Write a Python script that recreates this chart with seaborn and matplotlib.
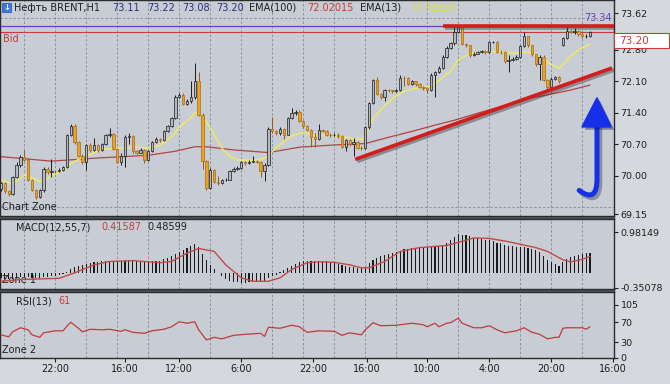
import numpy as np
import seaborn as sns
import matplotlib.pyplot as plt
import matplotlib.patheffects as pe
from matplotlib.patches import Rectangle, PathPatch, Polygon
from matplotlib.path import Path

# ---- H1 candles, Brent (bar index = position) ----
opens = [
    69.70, 69.84, 69.66, 69.60, 69.98, 70.24, 70.42, 70.36, 69.91, 69.69,
    69.53, 69.68, 70.16, 70.09, 70.11, 70.10, 70.14, 70.20, 70.90, 71.12,
    70.75, 70.45, 70.30, 70.68, 70.57, 70.68, 70.57, 70.70, 70.90, 70.93,
    70.60, 70.32, 70.45, 70.86, 70.88, 70.55, 70.52, 70.58, 70.36, 70.55,
    70.75, 70.82, 70.79, 71.00, 71.10, 71.28, 71.76, 71.80, 71.60, 71.66,
    71.75, 72.10, 71.36, 70.33, 69.73, 70.13, 69.87, 69.85, 69.90, 69.92,
    70.10, 70.15, 70.18, 70.30, 70.28, 70.32, 70.33, 70.31, 70.12, 70.25,
    71.05, 70.99, 70.95, 71.05, 70.92, 71.28, 71.39, 71.43, 71.22, 71.10,
    71.03, 70.87, 70.83, 71.02, 71.00, 70.92, 70.90, 70.92, 70.88, 70.65,
    70.80, 70.70, 70.75, 70.63, 70.62, 71.08, 71.62, 72.13, 71.82, 71.75,
    71.91, 71.90, 71.88, 71.91, 72.18, 72.17, 72.05, 72.10, 72.04, 71.98,
    71.95, 71.90, 72.25, 72.30, 72.40, 72.65, 72.85, 72.95, 73.20, 73.30,
    72.93, 72.90, 72.68, 72.72, 72.75, 72.78, 72.75, 72.97, 72.98, 72.76,
    72.75, 72.55, 72.58, 72.60, 72.65, 72.88, 73.10, 72.90, 72.70, 72.48,
    72.65, 72.13, 71.98, 72.16, 72.20, 72.90, 73.06, 73.22, 73.20, 73.22,
    73.15, 73.10, 73.11,
]
highs = [
    69.87, 69.86, 69.68, 70.00, 70.30, 70.46, 70.58, 70.40, 69.94, 69.72,
    69.70, 70.20, 70.19, 70.37, 70.14, 70.17, 70.23, 70.93, 71.15, 71.16,
    70.78, 70.48, 70.72, 70.73, 70.85, 70.70, 70.73, 70.93, 71.06, 70.96,
    70.63, 70.50, 70.92, 70.95, 70.90, 70.58, 70.62, 70.60, 70.58, 70.78,
    70.86, 70.85, 71.03, 71.14, 71.32, 71.80, 71.85, 71.85, 71.70, 72.10,
    72.52, 72.30, 71.40, 70.36, 70.17, 70.16, 70.00, 69.94, 69.96, 70.13,
    70.20, 70.22, 70.34, 70.33, 70.35, 70.45, 70.36, 70.34, 70.28, 71.08,
    71.30, 71.02, 71.08, 71.07, 71.31, 71.50, 71.47, 71.46, 71.25, 71.13,
    71.05, 70.95, 71.15, 71.05, 71.03, 70.95, 70.96, 70.95, 70.90, 70.83,
    70.83, 70.85, 70.78, 70.66, 71.11, 71.65, 72.16, 72.20, 71.85, 71.94,
    71.94, 71.92, 71.94, 72.25, 72.22, 72.20, 72.13, 72.12, 72.06, 72.00,
    71.98, 72.28, 72.34, 72.44, 72.68, 72.88, 72.98, 73.35, 73.35, 73.32,
    72.96, 72.92, 72.75, 72.78, 72.80, 72.80, 73.00, 73.01, 73.00, 72.79,
    72.77, 72.68, 72.64, 72.68, 72.91, 73.20, 73.12, 72.92, 72.72, 72.68,
    72.68, 72.15, 72.19, 72.23, 72.22, 73.09, 73.36, 73.25, 73.28, 73.24,
    73.17, 73.16, 73.22,
]
lows = [
    69.66, 69.62, 69.55, 69.57, 69.95, 70.20, 70.33, 69.88, 69.66, 69.48,
    69.50, 69.65, 70.05, 69.98, 70.06, 70.08, 70.12, 70.18, 70.88, 70.72,
    70.42, 70.26, 70.13, 70.54, 70.55, 70.54, 70.55, 70.68, 70.86, 70.57,
    70.28, 70.25, 70.20, 70.72, 70.52, 70.48, 70.50, 70.29, 70.34, 70.53,
    70.73, 70.76, 70.77, 70.98, 71.08, 71.26, 71.74, 71.57, 71.58, 71.63,
    71.72, 71.33, 70.15, 69.69, 69.70, 69.84, 69.80, 69.83, 69.88, 69.90,
    70.08, 70.13, 70.16, 70.25, 70.26, 70.30, 70.28, 69.98, 69.88, 70.22,
    70.96, 70.90, 70.92, 70.82, 70.90, 71.26, 71.36, 71.19, 71.07, 71.00,
    70.64, 70.65, 70.80, 70.97, 70.89, 70.87, 70.88, 70.85, 70.62, 70.55,
    70.67, 70.45, 70.60, 70.58, 70.60, 71.05, 71.60, 71.79, 71.72, 71.66,
    71.87, 71.85, 71.86, 71.89, 72.00, 72.02, 72.03, 72.01, 71.95, 71.92,
    71.85, 71.88, 71.76, 72.28, 72.38, 72.62, 72.83, 72.92, 73.18, 72.90,
    72.86, 72.65, 72.66, 72.70, 72.73, 72.72, 72.73, 72.95, 72.73, 72.72,
    72.52, 72.30, 72.55, 72.57, 72.63, 72.86, 72.87, 72.67, 72.45, 72.13,
    72.10, 71.88, 71.95, 72.13, 72.07, 72.88, 73.04, 73.17, 73.16, 73.12,
    73.06, 73.07, 73.08,
]
closes = [
    69.84, 69.66, 69.60, 69.98, 70.24, 70.42, 70.36, 69.91, 69.69, 69.53,
    69.68, 70.16, 70.09, 70.11, 70.10, 70.14, 70.20, 70.90, 71.12, 70.75,
    70.45, 70.30, 70.68, 70.57, 70.68, 70.57, 70.70, 70.90, 70.93, 70.60,
    70.32, 70.45, 70.86, 70.88, 70.55, 70.52, 70.58, 70.36, 70.55, 70.75,
    70.82, 70.79, 71.00, 71.10, 71.28, 71.76, 71.80, 71.60, 71.66, 71.75,
    72.10, 71.36, 70.33, 69.73, 70.13, 69.87, 69.85, 69.90, 69.92, 70.10,
    70.15, 70.18, 70.30, 70.28, 70.32, 70.33, 70.31, 70.12, 70.25, 71.05,
    70.99, 70.95, 71.05, 70.92, 71.28, 71.39, 71.43, 71.22, 71.10, 71.03,
    70.87, 70.83, 71.02, 71.00, 70.92, 70.90, 70.92, 70.88, 70.65, 70.80,
    70.70, 70.75, 70.63, 70.62, 71.08, 71.62, 72.13, 71.82, 71.75, 71.91,
    71.90, 71.88, 71.91, 72.18, 72.17, 72.05, 72.10, 72.04, 71.98, 71.95,
    71.90, 72.25, 72.30, 72.40, 72.65, 72.85, 72.95, 73.20, 73.30, 72.93,
    72.90, 72.68, 72.72, 72.75, 72.78, 72.75, 72.97, 72.98, 72.76, 72.75,
    72.55, 72.58, 72.60, 72.65, 72.88, 73.10, 72.90, 72.70, 72.48, 72.65,
    72.13, 71.98, 72.16, 72.20, 72.10, 73.06, 73.22, 73.20, 73.22, 73.15,
    73.10, 73.11, 73.20,
]

# moving averages (bar, value)
ema13_bar = [0, 3, 6, 8, 10, 12, 14, 16, 18, 20, 23, 26, 29, 32, 35, 38, 41, 44,
             46, 49, 50, 51, 53, 55, 57, 59, 61, 64, 67, 69, 71, 73, 75, 78, 81,
             86, 89, 93, 94, 96, 99, 101, 104, 107, 111, 113, 116, 118, 121, 125,
             129, 133, 136, 139, 142, 144, 147, 149, 152]
ema13_val = [69.91, 69.83, 70.02, 69.96, 69.88, 69.95, 70.05, 70.13, 70.28, 70.37,
             70.48, 70.59, 70.61, 70.62, 70.64, 70.62, 70.68, 70.87, 71.08, 71.30,
             71.40, 71.42, 71.20, 70.92, 70.62, 70.43, 70.36, 70.35, 70.36, 70.45,
             70.63, 70.77, 70.89, 70.97, 70.90, 70.90, 70.86, 70.81, 70.88, 71.28,
             71.56, 71.72, 71.88, 71.95, 72.00, 72.12, 72.33, 72.58, 72.72, 72.76,
             72.76, 72.73, 72.76, 72.65, 72.48, 72.39, 72.66, 72.80, 72.93]
ema100_bar = [0, 13, 25, 38, 45, 50, 53, 60, 69, 77, 86, 94, 100, 106, 112, 117,
              124, 130, 136, 142, 147, 152]
ema100_val = [70.43, 70.33, 70.40, 70.46, 70.55, 70.65, 70.65, 70.58, 70.52, 70.64,
              70.69, 70.72, 70.86, 70.99, 71.13, 71.24, 71.42, 71.57, 71.72, 71.82,
              71.91, 72.02]

# MACD(12,55,7): histogram per bar, signal line (bar, value)
macd_hist = [
    -0.12, -0.13, -0.14, -0.13, -0.11, -0.09, -0.08, -0.09, -0.11, -0.12,
    -0.12, -0.10, -0.08, -0.07, -0.06, -0.04, -0.02,
    0.03, 0.10, 0.15, 0.18, 0.20, 0.23, 0.25, 0.26, 0.27, 0.28, 0.29, 0.30, 0.30,
    0.29, 0.28, 0.29, 0.30, 0.29, 0.28, 0.28, 0.27, 0.27, 0.28, 0.29, 0.30,
    0.33, 0.36, 0.40, 0.46, 0.51, 0.55, 0.59, 0.64, 0.69, 0.62, 0.46, 0.32, 0.20,
    0.10, 0.01,
    -0.07, -0.13, -0.18, -0.20, -0.21, -0.22, -0.22, -0.21, -0.21, -0.20, -0.20,
    -0.18, -0.12, -0.07, -0.03, 0.02,
    0.07, 0.12, 0.17, 0.22, 0.26, 0.29, 0.30, 0.29, 0.28, 0.29, 0.29, 0.28, 0.27,
    0.25, 0.23, 0.19, 0.18, 0.16, 0.15, 0.13, 0.12,
    0.16, 0.24, 0.31, 0.37, 0.40, 0.43, 0.46, 0.49, 0.51, 0.54, 0.57, 0.58, 0.60,
    0.61, 0.62, 0.62, 0.62, 0.64, 0.64, 0.65, 0.67,
    0.72, 0.79, 0.87, 0.93, 0.92, 0.90, 0.88, 0.85, 0.83, 0.81, 0.80, 0.79, 0.76,
    0.73, 0.71, 0.68, 0.66, 0.64, 0.63, 0.62, 0.62, 0.61, 0.58, 0.55, 0.51,
    0.42, 0.32, 0.26, 0.22, 0.18, 0.27, 0.34, 0.38, 0.41, 0.43, 0.45, 0.47, 0.49,
]
macd_sig_bar = [0, 5, 15, 19, 24, 28, 34, 41, 44, 48, 51, 55, 58, 62, 65, 69, 72,
                75, 79, 82, 86, 90, 93, 95, 99, 103, 108, 115, 119, 122, 126, 131,
                134, 138, 141, 145, 147, 150, 152]
macd_sig_val = [-0.19, -0.15, -0.12, 0.01, 0.20, 0.28, 0.30, 0.25, 0.28, 0.48,
                0.59, 0.52, 0.20, -0.11, -0.19, -0.19, -0.11, 0.09, 0.25, 0.27,
                0.26, 0.20, 0.13, 0.13, 0.28, 0.52, 0.61, 0.66, 0.76, 0.84, 0.83,
                0.75, 0.69, 0.61, 0.52, 0.32, 0.27, 0.33, 0.40]

# RSI(13) (bar, value)
rsi_bar = [0, 2, 3, 5, 7, 8, 10, 11, 14, 16, 17, 18, 20, 21, 23, 26, 28, 31, 32,
           34, 37, 39, 42, 44, 46, 48, 50, 51, 53, 55, 57, 60, 63, 67, 68, 69, 72,
           75, 77, 79, 82, 86, 88, 90, 93, 94, 96, 98, 102, 106, 109, 110, 112,
           113, 115, 116, 118, 119, 122, 124, 126, 128, 130, 133, 135, 137, 139,
           141, 143, 144, 145, 146, 150, 151, 152]
rsi_val = [45, 41, 51, 59, 55, 45, 40, 49, 53, 53, 62, 70, 58, 51, 56, 55, 56, 52,
           55, 50, 48, 53, 56, 61, 71, 68, 71, 55, 35, 40, 37, 44, 46, 48, 42, 60,
           58, 64, 61, 50, 53, 52, 44, 49, 45, 55, 69, 63, 64, 68, 65, 61, 68, 61,
           68, 69, 78, 68, 59, 59, 63, 55, 49, 53, 59, 50, 46, 37, 40, 40, 58, 59,
           59, 56, 61]

time_tick_pos = [14, 32, 46, 62, 80.5, 94.5, 110, 126, 142, 158]
time_tick_labels = ["22:00", "16:00", "12:00", "6:00", "22:00", "16:00",
                    "10:00", "4:00", "20:00", "16:00"]
price_ticks = [69.15, 70.00, 70.70, 71.40, 72.10, 72.80, 73.62]
price_grid = [69.30, 70.00, 70.70, 71.40, 72.10, 72.80, 73.50]
macd_ticks = [-0.35078, 0.98149]
rsi_ticks = [0, 30, 70, 105]
rsi_grid = [30, 70, 105]

bid_price = 73.20
level_price = 73.34
resist_from = 114
trend_start = (91.4, 70.37)
trend_end = (157.7, 72.40)

# ---- figure / layout (pixel based, 670x384) ----
sns.set_style("white")
plt.rcParams['font.family'] = ['DejaVu Sans']

W, H = 670, 384
PANEL_R = 613.5
X_LIM = (-0.26, 158.06)
BG = '#c8cdd5'
GRID = '#8a93a3'
DARK = '#1e1e1e'
RED = '#c63b3b'


def fx(px):
    return px / W


def fy(py):
    return 1 - py / H


fig = plt.figure(figsize=(W / 100, H / 100), dpi=100)
fig.patch.set_facecolor('#d5d8dc')

ax_main = fig.add_axes([0, fy(215.5), fx(PANEL_R), 215.5 / H])
ax_macd = fig.add_axes([0, fy(289), fx(PANEL_R), 70 / H])
ax_rsi = fig.add_axes([0, fy(357.5), fx(PANEL_R), 65.5 / H])

grid_x = np.arange(6, 158, 8)
for ax in (ax_main, ax_macd, ax_rsi):
    ax.set_facecolor(BG)
    ax.set_xlim(*X_LIM)
    ax.set_xticks(grid_x, minor=True)
    ax.grid(which='minor', color=GRID, lw=0.7, ls=(0, (2.5, 2)))
    ax.set_axisbelow(True)
    for s in ax.spines.values():
        s.set_color('#2b2b2b')
        s.set_linewidth(1.0)
    ax.yaxis.tick_right()
    ax.tick_params(axis='x', which='both', bottom=False, labelbottom=False,
                   top=False)
    ax.tick_params(axis='y', which='minor', length=0)
    ax.tick_params(axis='y', which='major', right=True, length=3, width=0.8,
                   pad=2, labelsize=6.8, colors=DARK)

# separator bands between panels
for top, bot in ((215.5, 219), (289, 292)):
    fig.add_artist(Rectangle((0, fy(bot)), fx(PANEL_R), (bot - top) / H,
                             transform=fig.transFigure, color='#50555c',
                             zorder=-1))

# ---- main price panel ----
o = np.array(opens)
h = np.array(highs)
l = np.array(lows)
c = np.array(closes)
x = np.arange(len(c))
up = c >= o
body_lo = np.minimum(o, c)
body_h = np.maximum(np.abs(c - o), 0.012)

ax_main.set_ylim(69.122, 73.911)
ax_main.set_yticks(price_ticks)
ax_main.set_yticklabels([f"{v:.2f}" for v in price_ticks])
ax_main.set_yticks(price_grid, minor=True)

sns.lineplot(x=ema100_bar, y=ema100_val, ax=ax_main, color='#b04444', lw=0.9,
             sort=False, estimator=None, zorder=2)
sns.lineplot(x=ema13_bar, y=ema13_val, ax=ax_main, color='#f0ec5a', lw=1.0,
             sort=False, estimator=None, zorder=2)

ax_main.vlines(x[up], l[up], h[up], color='#1c1c1c', lw=0.7, zorder=3)
ax_main.vlines(x[~up], l[~up], h[~up], color='#9a5a12', lw=0.7, zorder=3)
ax_main.bar(x[up], body_h[up], bottom=body_lo[up], width=0.62, color='#b4b8be',
            edgecolor='#1c1c1c', lw=0.5, zorder=4)
ax_main.bar(x[~up], body_h[~up], bottom=body_lo[~up], width=0.62,
            color='#eba224', edgecolor='#a86a12', lw=0.5, zorder=4)

ax_main.axhline(level_price, color='#6b3fb8', lw=0.9, zorder=2)
ax_main.axhline(bid_price, color=RED, lw=0.8, zorder=2)
ax_main.text(157.6, level_price + 0.05, f"{level_price:.2f}", color='#6b3fb8',
             ha='right', va='bottom', fontsize=7, zorder=6)
ax_main.text(0.5, bid_price - 0.05, "Bid", color=RED, ha='left', va='top',
             fontsize=7, zorder=6)

shadow = [pe.SimpleLineShadow(offset=(1.5, -1.5), shadow_color='#3c3c3c',
                              alpha=0.45), pe.Normal()]
ax_main.hlines(level_price, resist_from, X_LIM[1], color='#d41c1c', lw=2.6,
               zorder=5, path_effects=shadow)
ax_main.plot([trend_start[0], trend_end[0]], [trend_start[1], trend_end[1]],
             color='#d41c1c', lw=2.6, solid_capstyle='butt', zorder=5,
             path_effects=shadow)

# blue hook arrow
hook = Path([(149.2, 69.68), (153.9, 69.38), (153.8, 69.95), (153.8, 71.12)],
            [Path.MOVETO, Path.CURVE3, Path.CURVE3, Path.LINETO])
ax_main.add_patch(PathPatch(hook, fill=False, edgecolor='#1530e8', lw=3.6,
                            capstyle='round', zorder=6, path_effects=[
                                pe.SimpleLineShadow(offset=(2, -2),
                                                    shadow_color='#333',
                                                    alpha=0.4), pe.Normal()]))
ax_main.add_patch(Polygon([(149.9, 71.09), (157.5, 71.09), (153.8, 71.74)],
                          closed=True, color='#1530e8', zorder=6,
                          path_effects=[pe.SimplePatchShadow(offset=(2, -2),
                                                             alpha=0.4),
                                        pe.Normal()]))

ax_main.text(2 / PANEL_R, 0.039, "Chart Zone", transform=ax_main.transAxes,
             fontsize=7, color=DARK, va='center', ha='left', zorder=1)
ax_main.set_xlabel('')
ax_main.set_ylabel('')

# ---- MACD panel ----
ax_macd.set_ylim(-0.3746, 1.2908)
ax_macd.set_yticks(macd_ticks)
ax_macd.set_yticklabels([f"{v:.5f}" for v in macd_ticks])
ax_macd.bar(x, macd_hist, width=0.3, color='#1a1a1a', edgecolor='none',
            lw=0, zorder=3)
sns.lineplot(x=macd_sig_bar, y=macd_sig_val, ax=ax_macd, color='#c44848',
             lw=1.0, sort=False, estimator=None, zorder=4)
ax_macd.text(2 / PANEL_R, 0.13, "Zone 1", transform=ax_macd.transAxes,
             fontsize=7, color=DARK, va='center', ha='left', zorder=1)
ax_macd.set_xlabel('')
ax_macd.set_ylabel('')

# ---- RSI panel ----
ax_rsi.set_ylim(0, 130)
ax_rsi.set_yticks(rsi_ticks)
ax_rsi.set_yticks(rsi_grid, minor=True)
sns.lineplot(x=rsi_bar, y=rsi_val, ax=ax_rsi, color='#c03a3a', lw=0.9,
             sort=False, estimator=None, zorder=3)
ax_rsi.text(2 / PANEL_R, 0.115, "Zone 2", transform=ax_rsi.transAxes,
            fontsize=7, color=DARK, va='center', ha='left', zorder=1)
ax_rsi.set_xticks(time_tick_pos)
ax_rsi.set_xticklabels(time_tick_labels)
ax_rsi.tick_params(axis='x', which='major', bottom=True, labelbottom=True,
                   length=3, width=0.8, pad=2, labelsize=7, colors=DARK)
ax_rsi.set_xlabel('')
ax_rsi.set_ylabel('')

# ---- header / panel captions ----
fig.add_artist(Rectangle((fx(2), fy(12)), fx(9), 9 / H, transform=fig.transFigure,
                         facecolor='#3b7be0', edgecolor='#1d4fa8', lw=0.5,
                         zorder=8))
fig.text(fx(6.5), fy(7.6), "↓", color='white', fontsize=6, fontweight='bold',
         ha='center', va='center', zorder=9)

BLUE_TXT = '#2b2f7c'
header = [("Нефть BRENT,H1", 14, DARK), ("73.11", 112, BLUE_TXT),
          ("73.22", 147, BLUE_TXT), ("73.08", 182, BLUE_TXT),
          ("73.20", 216, BLUE_TXT), ("EMA(100)", 249, DARK),
          ("72.02015", 307, RED), ("EMA(13)", 360, DARK),
          ("72.92333", 410, '#dcd840')]
for txt, px, col in header:
    fig.text(fx(px), fy(8), txt, color=col, fontsize=7, ha='left', va='center',
             zorder=9)

for txt, px, col in [("MACD(12,55,7)", 16, DARK), ("0.41587", 101, RED),
                     ("0.48599", 147, DARK)]:
    fig.text(fx(px), fy(227.5), txt, color=col, fontsize=7, ha='left',
             va='center', zorder=9)
for txt, px, col in [("RSI(13)", 16, DARK), ("61", 58, RED)]:
    fig.text(fx(px), fy(301), txt, color=col, fontsize=7, ha='left',
             va='center', zorder=9)

# current bid price box on the price scale
fig.add_artist(Rectangle((fx(614), fy(48)), fx(55), 15 / H,
                         transform=fig.transFigure, facecolor='white',
                         edgecolor=RED, lw=0.8, zorder=10))
fig.text(fx(619), fy(40.5), f"{bid_price:.2f}", color=RED, fontsize=7.5,
         ha='left', va='center', zorder=11)

fig.savefig("out.png", dpi=100, facecolor=fig.get_facecolor())
